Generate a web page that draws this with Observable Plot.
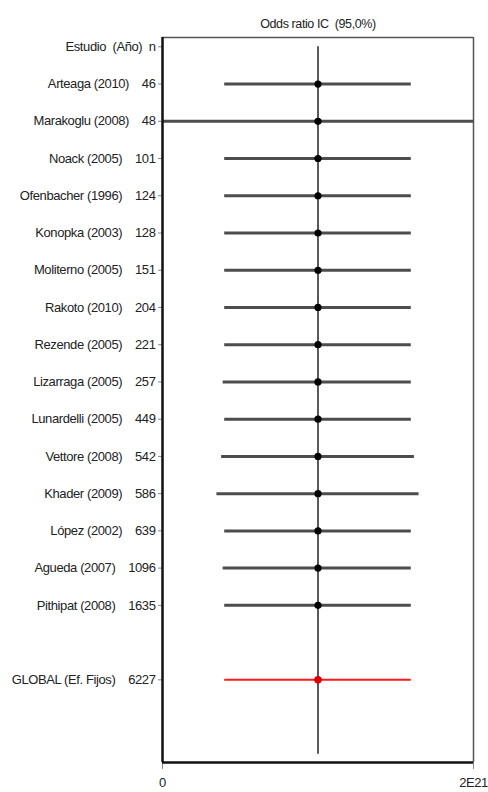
<!DOCTYPE html>
<html>
<head>
<meta charset="utf-8">
<script src="https://cdn.jsdelivr.net/npm/d3@7"></script>
<script src="https://cdn.jsdelivr.net/npm/@observablehq/plot@0.6"></script>
<style>
  body { margin: 0; background: #fff; }
  svg text { letter-spacing: -0.4px; }
</style>
</head>
<body>
<div id="chart"></div>
<script>
// ---- Data ----
const title = "Odds ratio IC  (95,0%)";
const headerLabel = "Estudio  (Año)";
const headerN = "n";
const headerRow = 0;

const studies = [
  "Arteaga (2010)", "Marakoglu (2008)", "Noack (2005)", "Ofenbacher (1996)",
  "Konopka (2003)", "Moliterno (2005)", "Rakoto (2010)", "Rezende (2005)",
  "Lizarraga (2005)", "Lunardelli (2005)", "Vettore (2008)", "Khader (2009)",
  "López (2002)", "Agueda (2007)", "Pithipat (2008)"
];
const nValues = [46, 48, 101, 124, 128, 151, 204, 221, 257, 449, 542, 586, 639, 1096, 1635];
const rows = [1, 2, 3, 4, 5, 6, 7, 8, 9, 10, 11, 12, 13, 14, 15];
// odds ratio and 95% CI, in units of 1E21
const oddsRatio = [1.0, 1.0, 1.0, 1.0, 1.0, 1.0, 1.0, 1.0, 1.0, 1.0, 1.0, 1.0, 1.0, 1.0, 1.0];
const lower = [0.40, 0.00, 0.40, 0.40, 0.40, 0.40, 0.40, 0.40, 0.39, 0.40, 0.38, 0.35, 0.40, 0.39, 0.40];
const upper = [1.60, 2.00, 1.60, 1.60, 1.60, 1.60, 1.60, 1.60, 1.60, 1.60, 1.62, 1.65, 1.60, 1.60, 1.60];

const globalLabel = "GLOBAL (Ef. Fijos)";
const globalN = 6227;
const globalRow = 17;
const globalOR = 1.0;
const globalLower = 0.40;
const globalUpper = 1.60;

const xTicks = [0, 2];
const xDomain = [0, 2];
const refLine = 1.0;

// ---- Build tables ----
const data = studies.map((s, i) => ({
  study: s, n: nValues[i], row: rows[i], or: oddsRatio[i], lo: lower[i], hi: upper[i]
}));
const globalData = [{study: globalLabel, n: globalN, row: globalRow, or: globalOR, lo: globalLower, hi: globalUpper}];

const sep = "\u00a0\u00a0\u00a0\u00a0";
const labelMap = new Map();
labelMap.set(headerRow, headerLabel + "\u00a0\u00a0" + headerN);
data.forEach(d => labelMap.set(d.row, d.study + sep + d.n));
labelMap.set(globalRow, globalLabel + sep + globalN);
const tickRows = [headerRow, ...rows, globalRow];

const yDomain = [-0.25, 19.22];

const chart = Plot.plot({
  width: 488,
  height: 792,
  marginLeft: 162,
  marginRight: 15,
  marginTop: 37,
  marginBottom: 30,
  style: {
    fontFamily: "'Liberation Sans', Arial, sans-serif",
    fontSize: "13px",
    color: "#222",
    background: "#fff"
  },
  x: {domain: xDomain, label: null},
  y: {domain: yDomain, reverse: true, label: null},
  marks: [
    Plot.axisY(tickRows, {
      tickFormat: r => labelMap.get(r),
      tickSize: 4, tickPadding: 3, stroke: "#888", fill: "#222", label: null
    }),
    Plot.axisX(xTicks, {
      tickFormat: d => d === 0 ? "0" : d + "E21",
      tickSize: 7, tickPadding: 8, stroke: "#888", fill: "#222", label: null
    }),
    // reference (null effect) line
    Plot.ruleX([refLine], {y1: headerRow, y2: 19, stroke: "#222", strokeWidth: 1.5}),
    // study CIs
    Plot.ruleY(data, {y: "row", x1: "lo", x2: "hi", stroke: "#4d4d4d", strokeWidth: 3}),
    Plot.dot(data, {x: "or", y: "row", r: 3.6, fill: "#000"}),
    // global
    Plot.ruleY(globalData, {y: "row", x1: "lo", x2: "hi", stroke: "#ff1a1a", strokeWidth: 2}),
    Plot.dot(globalData, {x: "or", y: "row", r: 3.8, fill: "#e00000"}),
    // frame
    Plot.ruleX([xDomain[1]], {stroke: "#555", strokeWidth: 1.5}),
    Plot.ruleY([yDomain[0]], {stroke: "#555", strokeWidth: 1.5}),
    Plot.ruleX([xDomain[0]], {stroke: "#111", strokeWidth: 2.5}),
    Plot.ruleY([yDomain[1]], {stroke: "#111", strokeWidth: 2.5}),
    // title
    Plot.text([title], {frameAnchor: "top", dy: -18, fontSize: 12.5, fill: "#222"})
  ]
});
document.getElementById("chart").appendChild(chart);
</script>
</body>
</html>
